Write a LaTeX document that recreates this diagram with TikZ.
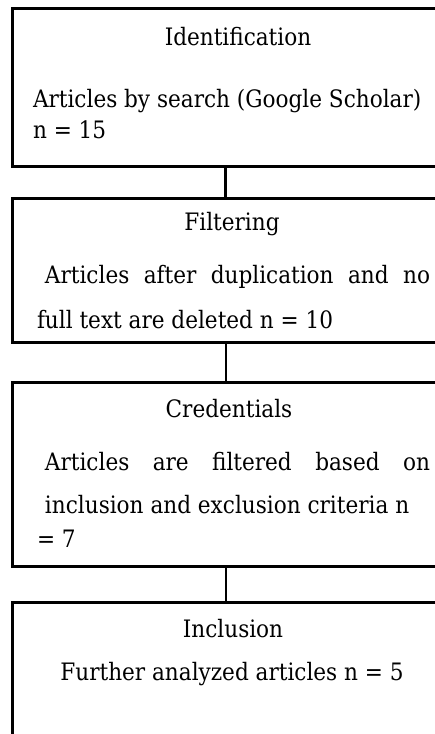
\documentclass[tikz,border=0pt]{standalone}
\usepackage{fontspec}
\setmainfont{DejaVu Serif Condensed}
\begin{document}
\begin{tikzpicture}[x=1pt,y=-1pt,
  boxstyle/.style={draw=black,line width=3pt,fill=none},
  thickconn/.style={draw=black,line width=3pt},
  thinconn/.style={draw=black,line width=2pt},
  txt/.style={inner sep=0pt,outer sep=0pt,font=\fontsize{24}{29}\selectfont}
]
\useasboundingbox (0,0) rectangle (435,734);
\clip (0,0) rectangle (435,734);
\fill[white] (0,0) rectangle (435,734);
% boxes
\draw[boxstyle] (12.5,8.5) rectangle (470,166);
\draw[boxstyle] (12.5,198) rectangle (470,342);
\draw[boxstyle] (12.5,382) rectangle (470,566);
\draw[boxstyle] (12.5,602) rectangle (470,780);
\coordinate (b1s) at (225.5,166);
\coordinate (b2n) at (225.5,198);
\coordinate (b2s) at (225.5,342);
\coordinate (b3n) at (225.5,382);
\coordinate (b3s) at (225.5,566);
\coordinate (b4n) at (225.5,602);
% connectors
\draw[thickconn] (b1s) -- (b2n);
\draw[thinconn] (b2s) -- (b3n);
\draw[thinconn] (b3s) -- (b4n);
% texts
\node[txt,anchor=base] (t1) at (238,45) {Identification};
\node[txt,anchor=base west] (t2) at (33,107) {Articles by search (Google Scholar)};
\node[txt,anchor=base west] (t3) at (33,138) {n = 15};
\node[txt,anchor=base] (t4) at (232,230) {Filtering};
\node[txt,anchor=base west] (t5) at (45,283) {\makebox[385pt][s]{Articles after duplication and no}};
\node[txt,anchor=base west] (t6) at (37,328) {full text are deleted n = 10};
\node[txt,anchor=base] (t7) at (229,417) {Credentials};
\node[txt,anchor=base west] (t8) at (45,470) {\makebox[385pt][s]{Articles are filtered based on}};
\node[txt,anchor=base west] (t9) at (45,513) {inclusion and exclusion criteria n};
\node[txt,anchor=base west] (t10) at (37,547) {= 7};
\node[txt,anchor=base] (t11) at (233,637) {Inclusion};
\node[txt,anchor=base] (t12) at (232,680) {Further analyzed articles n = 5};
\end{tikzpicture}
\end{document}
